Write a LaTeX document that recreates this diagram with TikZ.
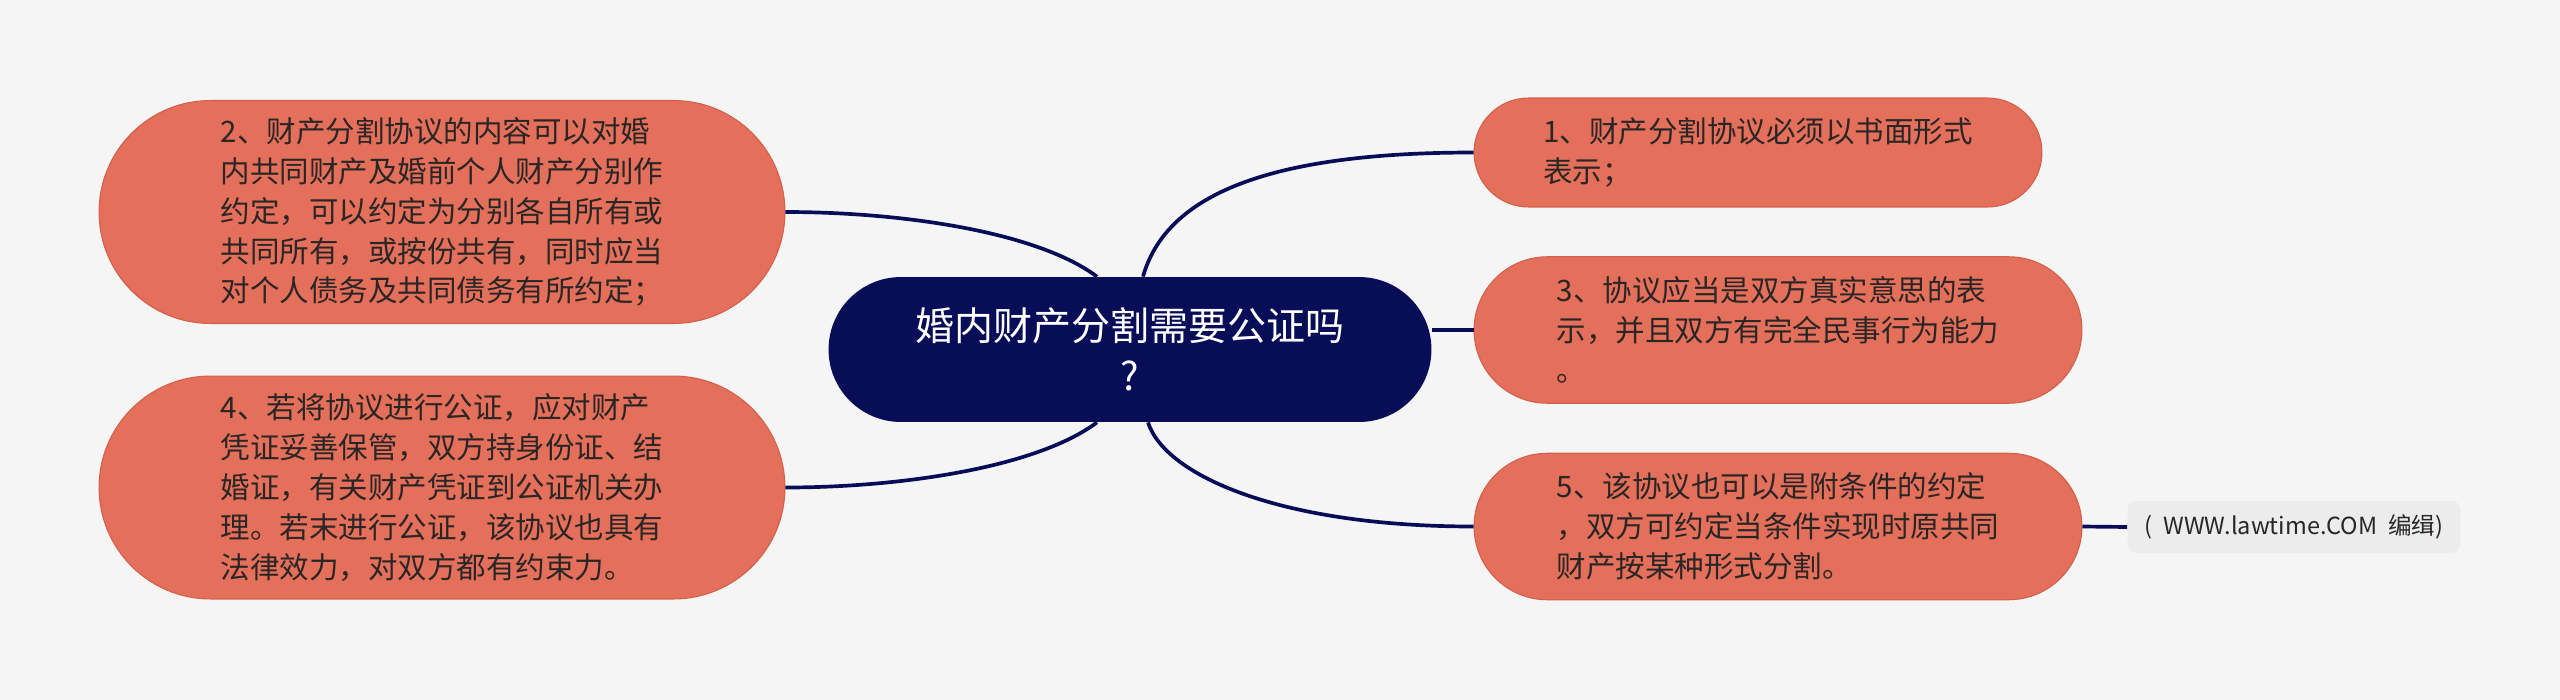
\documentclass[tikz,border=0pt]{standalone}
\usepackage{fontspec}
\setmainfont{Noto Sans CJK SC}
\usetikzlibrary{shapes.misc}
\definecolor{paper}{HTML}{F5F5F5}
\definecolor{salmon}{HTML}{E46F5A}
\definecolor{salmonrim}{HTML}{D2604C}
\definecolor{navy}{HTML}{080D57}
\definecolor{ink}{HTML}{2A2626}
\definecolor{tagfill}{HTML}{ECECEC}
\newcommand{\leaffont}{\fontsize{16.8pt}{22.7pt}\selectfont}
\newcommand{\rootfont}{\fontsize{22.2pt}{28.5pt}\selectfont}
\newcommand{\tagfont}{\fontsize{13.4pt}{15pt}\selectfont}

\begin{document}
\begin{tikzpicture}[
    x=0.02cm, y=-0.02cm,
    root/.style={
      rounded rectangle, fill=navy, text=white, align=center,
      font=\rootfont, inner sep=0pt,
      minimum width=12.06cm, minimum height=2.9cm,
    },
    leaf/.style={
      rounded rectangle, fill=salmon, draw=salmonrim, line width=0.6pt,
      text=ink, align=left, font=\leaffont, inner sep=0pt,
    },
    wide/.style={leaf, minimum width=13.72cm, minimum height=4.46cm},
    mid/.style={leaf, minimum width=12.16cm, minimum height=2.93cm},
    source/.style={
      rectangle, rounded corners=5pt, fill=tagfill, text=ink,
      font=\tagfont, inner sep=0pt,
      minimum width=6.66cm, minimum height=1.04cm,
    },
    link/.style={draw=navy, line width=2.1pt},
]
\fill[paper] (0,0) rectangle (2560,700);
\useasboundingbox (0,0) rectangle (2560,700);

\node[root] (root) at (1130, 349.5) {婚内财产分割需要公证吗\\?};

% left side
\node[wide] (left2) at (442, 212)
  {2、财产分割协议的内容可以对婚\\内共同财产及婚前个人财产分别作\\约定，可以约定为分别各自所有或\\共同所有，或按份共有，同时应当\\对个人债务及共同债务有所约定；};
\node[wide] (left4) at (442, 487.5)
  {4、若将协议进行公证，应对财产\\凭证妥善保管，双方持身份证、结\\婚证，有关财产凭证到公证机关办\\理。若末进行公证，该协议也具有\\法律效力，对双方都有约束力。};

% right side
\node[leaf, minimum width=11.36cm, minimum height=2.18cm] (right1) at (1758, 152.5)
  {1、财产分割协议必须以书面形式\\表示；};
\node[mid] (right3) at (1778, 330)
  {3、协议应当是双方真实意思的表\\示，并且双方有完全民事行为能力\\。};
\node[mid] (right5) at (1778, 526.5)
  {5、该协议也可以是附条件的约定\\，双方可约定当条件实现时原共同\\财产按某种形式分割。};

\node[source] (src) at (2294, 527) {(~~WWW.lawtime.COM~~编缉)};

% branches
\draw[link] ([xshift=-0.66cm]root.north) .. controls +(-60,-45) and +(116,0) .. (left2.east);
\draw[link] ([xshift=-0.66cm]root.south) .. controls +(-60,45) and +(116,0) .. (left4.east);
\draw[link] ([xshift=0.26cm]root.north) .. controls +(22,-78) and +(-214,0) .. (right1.west);
\draw[link] (right3.west -| root.east) -- (right3.west);
\draw[link] ([xshift=0.36cm]root.south) .. controls +(17,53) and +(-194,0) .. (right5.west);
\draw[link] (right5.east) -- (src.west);

\end{tikzpicture}
\end{document}
